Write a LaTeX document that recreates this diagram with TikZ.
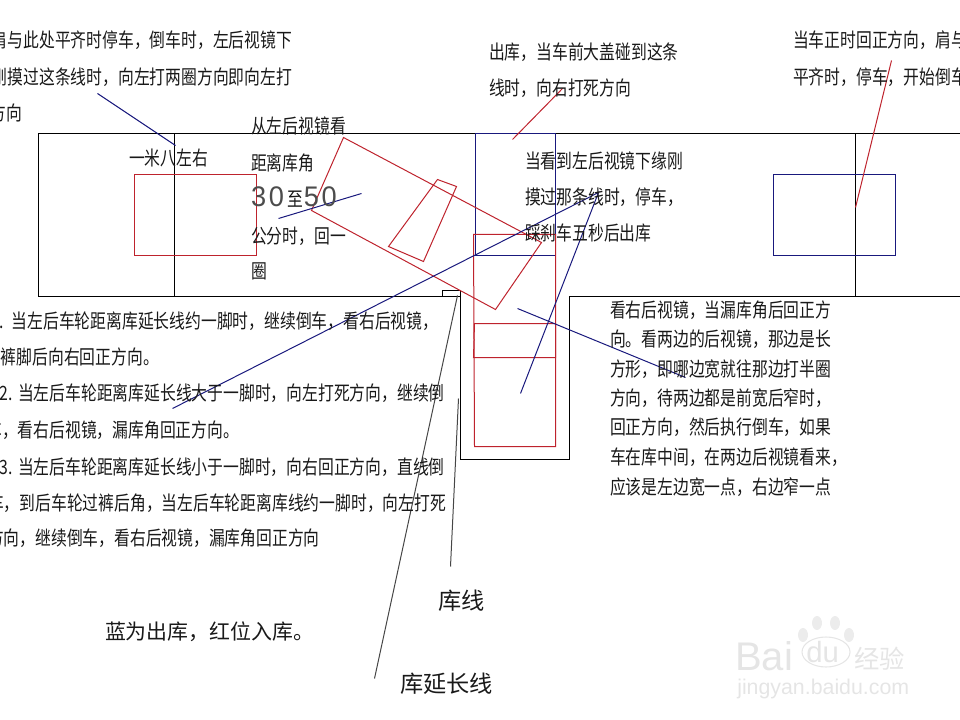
\documentclass[tikz,border=0pt]{standalone}
\usepackage{fontspec}
\setmainfont{Noto Sans CJK SC}
\newfontfamily\latinthin{Liberation Sans}[LetterSpace=10]
\newfontfamily\wmfont{Liberation Sans}
\definecolor{navyline}{RGB}{25,25,125}
\definecolor{redline}{RGB}{190,35,45}
\definecolor{greyline}{RGB}{70,70,70}
\tikzset{
  x=0.75pt,y=-0.75pt,
  base/.style={line width=0.75pt,black},
  redbox/.style={line width=0.75pt,redline},
  bluebox/.style={line width=0.75pt,navyline},
  greyleader/.style={line width=0.75pt,greyline},
  txt/.style={anchor=base west,inner sep=0pt,outer sep=0pt,font=\fontsize{11.85pt}{13pt}\selectfont,text=black!90},
  big/.style={txt,font=\fontsize{15.7pt}{17pt}\selectfont},
  bigger/.style={txt,font=\fontsize{17.4pt}{19pt}\selectfont},
  wm/.style={anchor=base west,inner sep=0pt,text=gray!20}
}
\newcommand{\tline}[3]{\node[txt] at (#1,#2+7.2) {\scalebox{1}[1.25]{#3}};}
\newcommand{\bignum}[1]{\scalebox{1.2}[1.25]{\fontsize{17pt}{19pt}\selectfont\latinthin\color{black!70}#1}}
\begin{document}
\begin{tikzpicture}
\useasboundingbox (0,0) rectangle (960,720);
\begin{scope}[shift={(0.5,0.5)}]
% road and parking bay
\draw[base] (961,133) -- (38,133) -- (38,296) -- (460,296) -- (460,459) -- (569,459) -- (569,296) -- (961,296);
\draw[base] (174,133) -- (174,296);
\draw[base] (855,133) -- (855,296);
\draw[base] (442,296) -- (442,290) -- (460,290) -- (460,296);
% cars
\draw[redbox] (134,174) rectangle (256,255);
\draw[bluebox] (475,133) rectangle (555,255);
\draw[bluebox] (773,174) rectangle (895,255);
\draw[redbox] (343,137) -- (541,242) -- (495,309) -- (311,210) -- cycle;
\draw[redbox] (437,179) -- (456,186) -- (423,261) -- (388,246) -- cycle;
\draw[redbox] (473,234) -- (555,234) -- (555,446) -- (474,446) -- cycle;
\draw[redbox] (474,323) -- (555,323) -- (555,357) -- (473,357) -- cycle;
% leaders
\draw[bluebox] (97,93) -- (175,145);
\draw[bluebox] (278,218) -- (361,193);
\draw[redbox] (512,139) -- (562,88);
\draw[redbox] (855,207) -- (891,60);
\draw[bluebox] (172,408) -- (598,192) -- (520,393);
\draw[bluebox] (517,308) -- (685,377);
\draw[greyleader] (374,678) -- (457,295);
\draw[greyleader] (458,398) -- (450,566);
\end{scope}
% top texts
\tline{-8}{40}{肩与此处平齐时停车，倒车时，左后视镜下}
\tline{-8}{77}{刚摸过这条线时，向左打两圈方向即向左打}
\tline{-9}{113}{方向}
\tline{489}{52}{出库，当车前大盖碰到这条}
\tline{489}{88}{线时，向右打死方向}
\tline{793}{40}{当车正时回正方向，肩与}
\tline{793}{77}{平齐时，停车，开始倒车}
\tline{129}{158}{一米八左右}
\tline{251}{126}{从左后视镜看}
\tline{251}{163}{距离库角}
\node[txt] at (251,207) {\bignum{30}\kern3pt\scalebox{1}[1.25]{至}\bignum{50}};
\tline{251}{236}{公分时，回一}
\tline{251}{271}{圈}
\tline{525}{161}{当看到左后视镜下缘刚}
\tline{525}{197}{摸过那条线时，停车，}
\tline{525}{233}{踩刹车五秒后出库}
% lower left
\tline{-9.4}{321}{1.\kern6pt 当左后车轮距离库延长线约一脚时，继续倒车，看右后视镜，}
\tline{1}{357}{裤脚后向右回正方向。}
\tline{-0.4}{393}{2.\kern4pt 当左后车轮距离库延长线大于一脚时，向左打死方向，继续倒}
\tline{-13.6}{430}{车，看右后视镜，漏库角回正方向。}
\tline{-0.4}{467}{3.\kern4pt 当左后车轮距离库延长线小于一脚时，向右回正方向，直线倒}
\tline{-12}{503}{车，到后车轮过裤后角，当左后车轮距离库线约一脚时，向左打死}
\tline{-12}{538}{方向，继续倒车，看右后视镜，漏库角回正方向}
% right block
\tline{610}{310}{看右后视镜，当漏库角后回正方}
\tline{610}{339}{向。看两边的后视镜，那边是长}
\tline{610}{369}{方形，即哪边宽就往那边打半圈}
\tline{610}{398}{方向，待两边都是前宽后窄时，}
\tline{610}{427}{回正方向，然后执行倒车，如果}
\tline{610}{457}{车在库中间，在两边后视镜看来，}
\tline{610}{487}{应该是左边宽一点，右边窄一点}
% bottom
\node[bigger] at (438,609) {库线};
\node[big] at (105,639) {蓝为出库，红位入库。};
\node[bigger] at (400,692) {库延长线};
% watermark
\fill[gray!15] (817,623) ellipse (5 and 7) (835,623) ellipse (5 and 7) (803,635) ellipse (5 and 7) (849,635) ellipse (5 and 7);
\draw[gray!20,line width=0.8pt] (826,652) ellipse (24 and 15);
\node[wm,font=\fontsize{30pt}{32pt}\wmfont] at (735,670) {Bai};
\node[wm,font=\fontsize{22pt}{24pt}\wmfont] at (806,662) {du};
\node[wm,font=\fontsize{19pt}{21pt}\selectfont] at (854,668) {经验};
\node[wm,font=\fontsize{16pt}{18pt}\wmfont] at (737,694) {jingyan.baidu.com};
\end{tikzpicture}
\end{document}
